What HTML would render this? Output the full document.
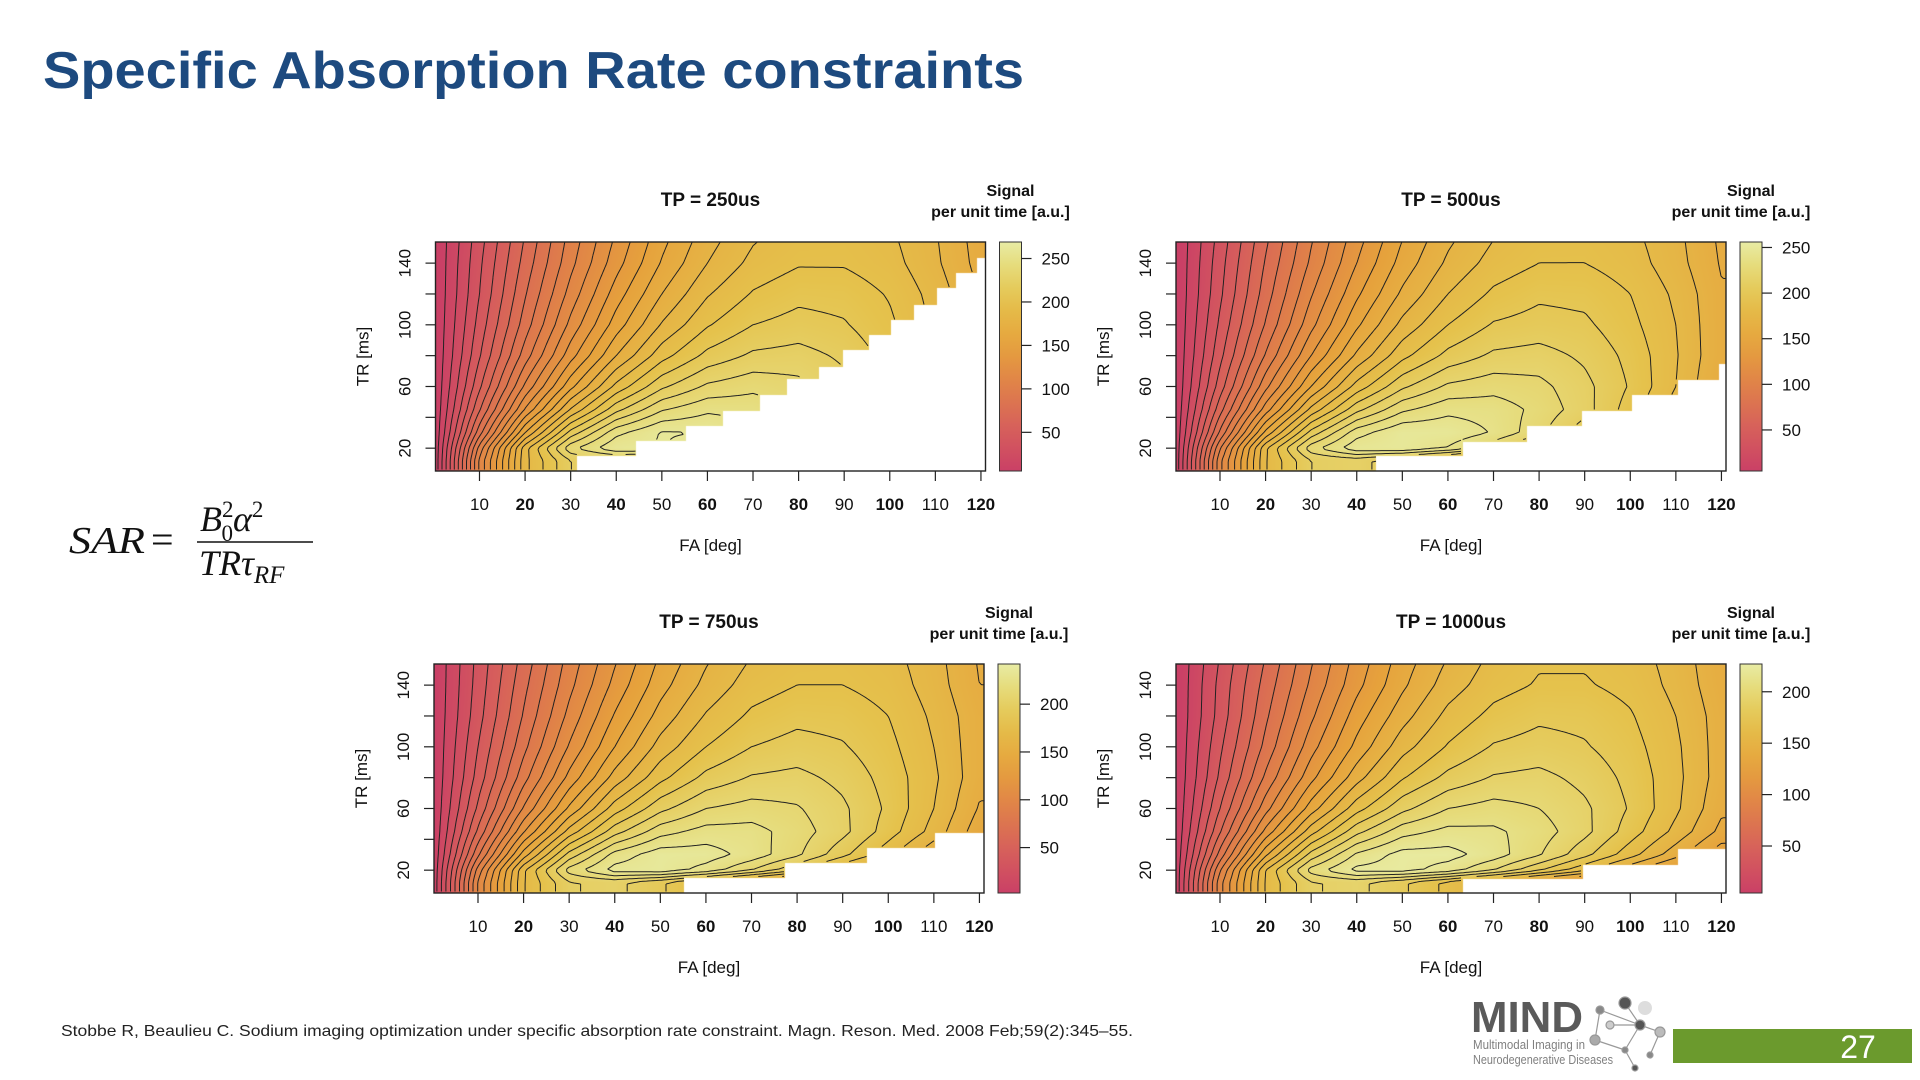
<!DOCTYPE html>
<html><head><meta charset="utf-8"><title>Specific Absorption Rate constraints</title>
<style>
html,body{margin:0;padding:0;background:#fff;}
#page{position:relative;width:1920px;height:1080px;overflow:hidden;background:#fff;font-family:"Liberation Sans",Arial,sans-serif;}
canvas{position:absolute;}
#overlay{position:absolute;left:0;top:0;}
</style></head>
<body>
<div id="page">
<svg id="overlay" width="1920" height="1080">
  <text x="43" y="88" font-family="Liberation Sans, sans-serif" font-weight="bold" font-size="52" fill="#1d4a7f" textLength="981" lengthAdjust="spacingAndGlyphs">Specific Absorption Rate constraints</text>
  <g font-family="Liberation Serif, serif" font-style="italic" fill="#111">
    <text x="69" y="553" font-size="38" textLength="76" lengthAdjust="spacingAndGlyphs">SAR</text>
    <text x="151" y="553" font-size="40" font-style="normal">=</text>
    <text x="200" y="531" font-size="36">B<tspan font-size="23" dy="-14" font-style="normal">2</tspan><tspan font-size="23" dx="-12" dy="24" font-style="normal">0</tspan><tspan dy="-10">α</tspan><tspan font-size="23" dy="-14" font-style="normal">2</tspan></text>
    <line x1="197" y1="542" x2="313" y2="542" stroke="#111" stroke-width="1.6"/>
    <text x="199" y="575" font-size="36">TRτ<tspan font-size="25" dy="8">RF</tspan></text>
  </g>
  <text x="61" y="1036" font-size="16" fill="#222" textLength="1072" lengthAdjust="spacingAndGlyphs">Stobbe R, Beaulieu C. Sodium imaging optimization under specific absorption rate constraint. Magn. Reson. Med. 2008 Feb;59(2):345–55.</text>
  <g>
    <text x="1471" y="1032" font-size="44" font-weight="bold" fill="#5a5a5a" textLength="112" lengthAdjust="spacingAndGlyphs">MIND</text>
    <text x="1473" y="1049" font-size="13" fill="#808080" textLength="112" lengthAdjust="spacingAndGlyphs">Multimodal Imaging in</text>
    <text x="1473" y="1064" font-size="13" fill="#808080" textLength="140" lengthAdjust="spacingAndGlyphs">Neurodegenerative Diseases</text>
    <g stroke="#999" stroke-width="1.2" fill="#888">
      <line x1="1625" y1="1003" x2="1640" y2="1025"/><line x1="1600" y1="1010" x2="1640" y2="1025"/><line x1="1640" y1="1025" x2="1660" y2="1032"/>
      <line x1="1600" y1="1010" x2="1595" y2="1040"/><line x1="1595" y1="1040" x2="1625" y2="1050"/><line x1="1625" y1="1050" x2="1640" y2="1025"/>
      <line x1="1625" y1="1050" x2="1635" y2="1068"/><line x1="1660" y1="1032" x2="1650" y2="1055"/><line x1="1610" y1="1025" x2="1640" y2="1025"/>
      <circle cx="1625" cy="1003" r="6" fill="#555"/><circle cx="1640" cy="1025" r="5" fill="#555"/><circle cx="1600" cy="1010" r="4"/>
      <circle cx="1660" cy="1032" r="5" fill="#bbb"/><circle cx="1595" cy="1040" r="5" fill="#aaa"/><circle cx="1625" cy="1050" r="3"/>
      <circle cx="1635" cy="1068" r="3" fill="#555"/><circle cx="1650" cy="1055" r="3"/><circle cx="1610" cy="1025" r="4" fill="#ccc"/>
      <circle cx="1645" cy="1008" r="7" fill="#ddd" stroke="none"/>
    </g>
  </g>
  <rect x="1673" y="1029" width="239" height="34" fill="#6b9a2d"/>
  <text x="1858" y="1058" font-size="32" fill="#fff" text-anchor="middle">27</text>
  <g id="charts"></g>
</svg>
</div>
<script>
// ---- shared axes data ----
const FA_GRID = [0,10,20,30,40,50,60,70,80,90,100,110,120];
const TR_GRID = [12,20,30,45,60,80,100,120,140,155];
const X_TICKS = [10,20,30,40,50,60,70,80,90,100,110,120];
const Y_TICKS = [20,40,60,80,100,120,140];
const Y_TICK_LABELS = [20,60,100,140];
const TITLES = ["TP = 250us","TP = 500us","TP = 750us","TP = 1000us"];

// ---- panel 1: TP=250us (rows = TR_GRID, cols = FA_GRID) ----
const P1_VALUES = [
 [0,112,187,220,224,212,194,173,153,134,116,99,83],
 [0,104,186,237,259,261,250,232,211,188,165,143,121],
 [0,86,160,214,247,261,260,250,234,213,191,167,143],
 [0,69,131,181,217,239,248,247,238,224,204,183,159],
 [0,58,112,157,193,218,232,237,233,223,208,188,165],
 [0,49,95,136,170,196,213,222,224,218,206,190,169],
 [0,44,85,123,155,181,199,210,214,211,202,188,169],
 [0,40,79,114,145,170,189,201,207,206,199,186,169],
 [0,38,74,107,136,161,180,193,199,199,194,182,166],
 [0,36,71,104,132,157,176,189,196,197,192,181,165]
];
const P1_STEP_FA = [31.2,44.3,55.3,63.2,71.4,77.4,84.3,89.6,95.4,100.2,105.3,110.3,114.5,119.1];
const P1_STEP_TR = [14.8,24.8,34.4,44.3,54.5,64.7,72.9,83.8,93.7,103.2,113,123.7,133.9,143.2];
const P1_RANGE = [5.5,269];
const P1_CB_TICKS = [50,100,150,200,250];

// ---- panel 2: TP=500us ----
const P2_VALUES = [
 [0,107,179,210,214,202,185,165,146,128,111,95,79],
 [0,99,178,226,247,249,239,222,202,180,158,137,116],
 [0,82,153,204,236,249,248,239,223,203,182,159,137],
 [0,66,125,173,207,228,237,236,227,214,195,175,152],
 [0,55,107,150,184,208,222,226,223,213,199,180,158],
 [0,47,91,130,162,187,203,212,214,208,197,181,161],
 [0,42,81,117,148,173,190,201,204,202,193,180,161],
 [0,38,75,109,138,162,180,192,198,197,190,178,161],
 [0,36,71,102,130,154,172,184,190,190,185,174,159],
 [0,34,68,99,126,150,168,180,187,188,183,173,158]
];
const P2_STEP_FA = [44.3,63.4,77.4,89.5,100.4,110.4,119.4];
const P2_STEP_TR = [14.9,24.2,34.4,44.3,54.3,64.3,74.6];
const P2_RANGE = [5,256];
const P2_CB_TICKS = [50,100,150,200,250];

// ---- panel 3: TP=750us ----
const P3_VALUES = [
 [0,101,169,199,203,192,176,157,138,121,105,90,75],
 [0,94,168,214,234,236,226,210,191,170,149,129,110],
 [0,78,145,194,224,236,235,226,212,193,173,151,129],
 [0,62,119,164,196,216,224,224,215,203,185,166,144],
 [0,52,101,142,175,197,210,214,211,202,188,170,149],
 [0,44,86,123,154,177,193,201,203,197,186,172,153],
 [0,40,77,111,140,164,180,190,194,191,183,170,153],
 [0,36,71,103,131,154,171,182,187,186,180,168,153],
 [0,34,67,97,123,146,163,175,180,180,176,165,150],
 [0,33,64,94,119,142,159,171,177,178,174,164,149]
];
const P3_STEP_FA = [55.2,77.3,95.3,110.2];
const P3_STEP_TR = [15.2,24.4,34.4,44.4];
const P3_RANGE = [2.5,242];
const P3_CB_TICKS = [50,100,150,200];

// ---- panel 4: TP=1000us ----
const P4_VALUES = [
 [0,96,161,189,193,182,167,149,132,115,100,85,71],
 [0,89,160,204,223,224,215,200,181,162,142,123,104],
 [0,74,138,184,212,224,224,215,201,183,164,144,123],
 [0,59,113,156,187,206,213,212,205,193,175,157,137],
 [0,50,96,135,166,187,200,204,200,192,179,162,142],
 [0,42,82,117,146,169,183,191,193,187,177,163,145],
 [0,38,73,106,133,156,171,181,184,181,174,162,145],
 [0,34,68,98,125,146,163,173,178,177,171,160,145],
 [0,33,64,92,117,138,155,166,171,171,167,157,143],
 [0,31,61,89,114,135,151,163,169,169,165,156,142]
];
const P4_STEP_FA = [63.4,89.7,110.4];
const P4_STEP_TR = [14.3,23.5,33.8];
const P4_RANGE = [4.3,227];
const P4_CB_TICKS = [50,100,150,200];

// ---- layout (not data) ----
const ORIGINS = [[435.5,242],[1176,242],[434,664],[1176,664]];
const PW = 550, PH = 229;
const FA_MIN = 0.35, FA_MAX = 121, TR_MIN = 5.2, TR_MAX = 153.7;
const STOPS = [[0,[202,64,102]],[0.18,[214,94,92]],[0.38,[224,130,72]],[0.55,[230,162,60]],[0.75,[229,194,76]],[0.9,[230,220,124]],[1,[232,236,164]]];

const NS = "http://www.w3.org/2000/svg";
const charts = document.getElementById('charts');
const page = document.getElementById('page');

function colorAt(t){
  t = Math.max(0,Math.min(1,t));
  for(let i=1;i<STOPS.length;i++){
    if(t<=STOPS[i][0]){
      const a=STOPS[i-1], b=STOPS[i], f=(t-a[0])/(b[0]-a[0]);
      return [0,1,2].map(k=>Math.round(a[1][k]+(b[1][k]-a[1][k])*f));
    }
  }
  return STOPS[STOPS.length-1][1];
}
function interp(grid, fa, tr){
  fa = Math.max(FA_GRID[0],Math.min(FA_GRID[FA_GRID.length-1],fa));
  tr = Math.max(TR_GRID[0],Math.min(TR_GRID[TR_GRID.length-1],tr));
  let i = Math.min(FA_GRID.length-2, Math.floor((fa-FA_GRID[0])/(FA_GRID[1]-FA_GRID[0])));
  let fx = (fa-FA_GRID[i])/(FA_GRID[i+1]-FA_GRID[i]);
  let j = 0; while(j<TR_GRID.length-2 && tr>TR_GRID[j+1]) j++;
  let fy = (tr-TR_GRID[j])/(TR_GRID[j+1]-TR_GRID[j]);
  const a=grid[j][i], b=grid[j][i+1], c=grid[j+1][i], d=grid[j+1][i+1];
  return a*(1-fx)*(1-fy)+b*fx*(1-fy)+c*(1-fx)*fy+d*fx*fy;
}
function isMasked(fa,tr,sf,st){
  for(let i=0;i<sf.length;i++){ if(fa>=sf[i] && tr<st[i]) return true; }
  return false;
}
function mk(tag, attrs, parent){
  const e=document.createElementNS(NS,tag);
  for(const k in attrs) e.setAttribute(k,attrs[k]);
  parent.appendChild(e); return e;
}

function drawPanel(p, values, stepFA, stepTR, range, cbTicks){
  const [x0,y0] = ORIGINS[p];
  const xS = fa => x0 + (fa-FA_MIN)/(FA_MAX-FA_MIN)*PW;
  const yS = tr => y0 + PH - (tr-TR_MIN)/(TR_MAX-TR_MIN)*PH;
  const faAt = px => FA_MIN + px/PW*(FA_MAX-FA_MIN);
  const trAt = py => TR_MAX - py/PH*(TR_MAX-TR_MIN);
  const g = mk('g',{},charts);
  
  

  const cv = document.createElement('canvas');
  cv.width = PW; cv.height = PH;
  cv.style.left = x0+'px'; cv.style.top = y0+'px';
  
  
  page.insertBefore(cv, page.firstChild);
  const ctx = cv.getContext('2d');
  const img = ctx.createImageData(PW,PH);
  for(let py=0;py<PH;py++){
    const tr = trAt(py+0.5);
    for(let px=0;px<PW;px++){
      const fa = faAt(px+0.5);
      const o=(py*PW+px)*4;
      if(isMasked(fa,tr,stepFA,stepTR)){ img.data[o]=255;img.data[o+1]=255;img.data[o+2]=255;img.data[o+3]=255; continue; }
      const v = interp(values,fa,tr);
      const c = colorAt((v-range[0])/(range[1]-range[0]));
      img.data[o]=c[0];img.data[o+1]=c[1];img.data[o+2]=c[2];img.data[o+3]=255;
    }
  }
  ctx.putImageData(img,0,0);

  const step = 2.5;
  const nx = Math.floor(PW/step)+1, ny = Math.floor(PH/step)+1;
  const F = [];
  for(let j=0;j<ny;j++){
    const row=[]; const tr=trAt(j*step);
    for(let i=0;i<nx;i++){
      const fa=faAt(i*step);
      row.push(isMasked(fa,tr,stepFA,stepTR)?NaN:interp(values,fa,tr));
    }
    F.push(row);
  }
  let maxV = 0; values.forEach(r=>r.forEach(v=>{if(v>maxV)maxV=v;}));
  const cg = mk('g',{},g);
  
  
  for(let L=10; L<maxV; L+=10){
    let d='';
    for(let j=0;j<ny-1;j++){
      for(let i=0;i<nx-1;i++){
        const a=F[j][i], b=F[j][i+1], c=F[j+1][i+1], e=F[j+1][i];
        if(isNaN(a)||isNaN(b)||isNaN(c)||isNaN(e)) continue;
        const pts=[];
        const X=i*step, Y=j*step;
        if((a<L)!==(b<L)){ const t=(L-a)/(b-a); pts.push([X+t*step,Y]); }
        if((b<L)!==(c<L)){ const t=(L-b)/(c-b); pts.push([X+step,Y+t*step]); }
        if((e<L)!==(c<L)){ const t=(L-e)/(c-e); pts.push([X+t*step,Y+step]); }
        if((a<L)!==(e<L)){ const t=(L-a)/(e-a); pts.push([X,Y+t*step]); }
        for(let k=0;k+1<pts.length;k+=2){
          d+='M'+(x0+pts[k][0]).toFixed(1)+' '+(y0+pts[k][1]).toFixed(1)+'L'+(x0+pts[k+1][0]).toFixed(1)+' '+(y0+pts[k+1][1]).toFixed(1);
        }
      }
    }
    if(d){
      const path = mk('path',{d:d,stroke:'#222','stroke-width':'1',fill:'none'},cg);
      
      
    }
  }

  const fr = mk('rect',{x:x0,y:y0,width:PW,height:PH,fill:'none',stroke:'#222','stroke-width':'1.4'},g);
  
  

  X_TICKS.forEach((v,k)=>{
    const x=xS(v);
    const tl = mk('line',{x1:x,y1:y0+PH,x2:x,y2:y0+PH+10,stroke:'#222','stroke-width':'1.2'},g);
    
    
    const t = mk('text',{x:x,y:y0+PH+39,'font-size':'17','text-anchor':'middle',fill:'#111','font-weight':(v%20===0?'bold':'normal')},g);
    t.textContent = v;
    
    
  });
  const xt = mk('text',{x:x0+PW/2,y:y0+PH+80,'font-size':'17','text-anchor':'middle',fill:'#111'},g);
  xt.textContent='FA [deg]';
  
  

  Y_TICKS.forEach(v=>{
    const y=yS(v);
    const tl = mk('line',{x1:x0-10,y1:y,x2:x0,y2:y,stroke:'#222','stroke-width':'1.2'},g);
    
    
  });
  Y_TICK_LABELS.forEach(v=>{
    const y=yS(v);
    const t = mk('text',{x:0,y:0,'font-size':'17','text-anchor':'middle',fill:'#111',transform:'translate('+(x0-25)+','+y+') rotate(-90)'},g);
    t.textContent=v;
    
    
  });
  const yt = mk('text',{x:0,y:0,'font-size':'17','text-anchor':'middle',fill:'#111',transform:'translate('+(x0-67)+','+(y0+PH/2)+') rotate(-90)'},g);
  yt.textContent='TR [ms]';
  
  

  const tt = mk('text',{x:x0+PW/2,y:y0-36,'font-size':'19','font-weight':'bold','text-anchor':'middle',fill:'#111'},g);
  tt.textContent = TITLES[p];
  
  

  const cbx = x0+564, cbw = 22;
  const gid = 'cbgrad'+p;
  const defs = mk('defs',{},g);
  const lg = mk('linearGradient',{id:gid,x1:'0',y1:'1',x2:'0',y2:'0'},defs);
  for(let s=0;s<=10;s++){
    const c=colorAt(s/10);
    mk('stop',{offset:(s*10)+'%','stop-color':'rgb('+c.join(',')+')'},lg);
  }
  const cb = mk('rect',{x:cbx,y:y0,width:cbw,height:PH,fill:'url(#'+gid+')',stroke:'#333','stroke-width':'1'},g);
  
  
  const cy = v => y0 + PH - (v-range[0])/(range[1]-range[0])*PH;
  cbTicks.forEach(v=>{
    const y=cy(v);
    const tl = mk('line',{x1:cbx+cbw,y1:y,x2:cbx+cbw+10,y2:y,stroke:'#222','stroke-width':'1.2'},g);
    
    
    const t = mk('text',{x:cbx+cbw+20,y:y+6,'font-size':'17',fill:'#111'},g);
    t.textContent=v;
    
    
  });
  const s1 = mk('text',{x:cbx+cbw/2,y:y0-46,'font-size':'16','font-weight':'bold','text-anchor':'middle',fill:'#111'},g);
  s1.textContent='Signal';
  
  
  const s2 = mk('text',{x:cbx+cbw/2-10,y:y0-25,'font-size':'16','font-weight':'bold','text-anchor':'middle',fill:'#111'},g);
  s2.textContent='per unit time [a.u.]';
  
  
}

drawPanel(0, P1_VALUES, P1_STEP_FA, P1_STEP_TR, P1_RANGE, P1_CB_TICKS);
drawPanel(1, P2_VALUES, P2_STEP_FA, P2_STEP_TR, P2_RANGE, P2_CB_TICKS);
drawPanel(2, P3_VALUES, P3_STEP_FA, P3_STEP_TR, P3_RANGE, P3_CB_TICKS);
drawPanel(3, P4_VALUES, P4_STEP_FA, P4_STEP_TR, P4_RANGE, P4_CB_TICKS);
</script>
</body></html>
